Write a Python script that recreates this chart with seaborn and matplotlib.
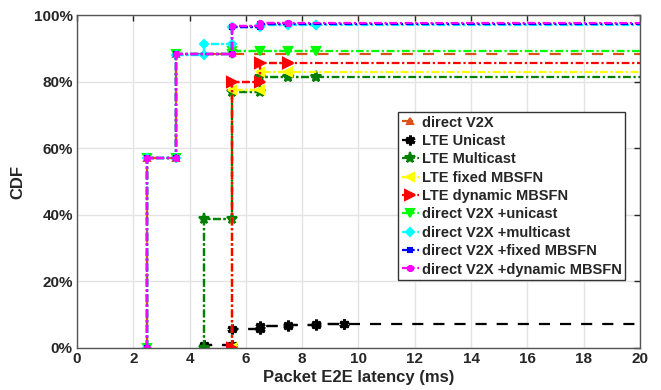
import matplotlib
matplotlib.use("Agg")
import matplotlib.pyplot as plt
import seaborn as sns

# latency bins (ms) and CDF values (%) for each scheme
names = ['direct V2X', 'LTE Unicast', 'LTE Multicast', 'LTE fixed MBSFN',
         'LTE dynamic MBSFN', 'direct V2X +unicast', 'direct V2X +multicast',
         'direct V2X +fixed MBSFN', 'direct V2X +dynamic MBSFN']

direct_x = [2.5, 3.5]
direct_cdf = [57.0, 88.3]
unicast_x = [4.5, 5.5, 6.5, 7.5, 8.5, 9.5]
unicast_cdf = [0.8, 5.7, 6.5, 7.0, 7.1, 7.1]
multicast_x = [4.5, 5.5, 6.5, 7.5, 8.5]
multicast_cdf = [38.7, 76.8, 81.3, 81.3, 81.3]
fixed_x = [5.5, 6.5, 7.5]
fixed_cdf = [77.6, 82.8, 82.8]
dynamic_x = [5.5, 6.5, 7.5]
dynamic_cdf = [80.0, 85.7, 85.7]
d_unicast_x = [2.5, 3.5, 5.5, 6.5, 7.5, 8.5]
d_unicast_cdf = [57.0, 88.3, 89.3, 89.3, 89.3, 89.3]
d_multicast_x = [2.5, 3.5, 4.5, 5.5, 6.5, 7.5, 8.5]
d_multicast_cdf = [57.0, 88.0, 91.3, 96.5, 96.9, 96.9, 96.9]
d_fixed_x = [2.5, 3.5, 5.5, 6.5, 7.5]
d_fixed_cdf = [57.0, 88.3, 96.5, 97.2, 97.2]
d_dynamic_x = [2.5, 3.5, 5.5, 6.5, 7.5]
d_dynamic_cdf = [57.0, 88.3, 96.6, 97.5, 97.5]

xs_all = [direct_x, unicast_x, multicast_x, fixed_x, dynamic_x,
          d_unicast_x, d_multicast_x, d_fixed_x, d_dynamic_x]
ys_all = [direct_cdf, unicast_cdf, multicast_cdf, fixed_cdf, dynamic_cdf,
          d_unicast_cdf, d_multicast_cdf, d_fixed_cdf, d_dynamic_cdf]

colors = ['#D95319', 'black', '#008000', '#FFFF00', '#FF0000',
          '#00FF00', '#00FFFF', '#0000FF', '#FF00FF']
markers = ['^', (6, 2, 0), '*', '<', '>', 'v', 'D', 's', (6, 2, 0)]
msizes = [5, 7, 8, 6, 6.5, 6, 4.5, 3.5, 5]
mews = [1.5, 2.2, 1.5, 1.5, 1.5, 1.5, 1.5, 1.5, 2]
dash_a = (5, 4.5)
dash_b = (3.5, 1.2, 1, 1.2)
dashes = [dash_a, dash_a, dash_b, dash_b, dash_b, dash_b, dash_b, dash_b, dash_b]

x_max = 20


def stair_vertices(xs, ys):
    vx, vy = [xs[0]], [0.0]
    for i in range(len(xs)):
        if i > 0:
            vx.append(xs[i])
            vy.append(ys[i - 1])
        vx.append(xs[i])
        vy.append(ys[i])
    return vx, vy


sns.set_theme(style="whitegrid")
plt.rcParams['font.family'] = ['Liberation Sans', 'DejaVu Sans']
plt.rcParams['font.weight'] = 'bold'

fig = plt.figure(figsize=(6.61, 3.9), dpi=100)
ax = fig.add_axes([0.1165, 0.1077, 0.8517, 0.8538])

for name, xs, ys, c, m, ms, mw, dsh in zip(names, xs_all, ys_all, colors,
                                            markers, msizes, mews, dashes):
    vx, vy = stair_vertices(xs, ys)
    sns.lineplot(x=vx + [x_max], y=vy + [vy[-1]], sort=False,
                 estimator=None, ax=ax, color=c, linewidth=1.6)
    ax.lines[-1].set_dashes(dsh)
    sns.lineplot(x=vx, y=vy, sort=False, estimator=None, ax=ax, color=c,
                 linewidth=1.6, marker=m, markersize=ms,
                 markeredgecolor=c, markerfacecolor=c, markeredgewidth=mw,
                 label=name)
    ax.lines[-1].set_dashes(dsh)

ax.set_xlim(0, x_max)
ax.set_ylim(0, 100)
ax.set_xticks(range(0, 21, 2))
ax.set_yticks(range(0, 101, 20))
ax.set_yticklabels([f'{v}%' for v in range(0, 101, 20)])
ax.tick_params(direction='in', top=True, right=True, length=4, width=1,
               labelsize=11, colors='#262626', pad=3)
for s in ax.spines.values():
    s.set_color('#555555')
    s.set_linewidth(1)
ax.grid(color='#E3E3E3', linewidth=1)
ax.set_xlabel('Packet E2E latency (ms)', fontsize=12, fontweight='bold',
              color='#262626', labelpad=3)
ax.set_ylabel('CDF', fontsize=12, fontweight='bold', color='#262626',
              labelpad=6)

leg = ax.legend(loc='upper left', bbox_to_anchor=(0.570, 0.709),
                borderaxespad=0, fontsize=10.5, handlelength=1.2,
                handletextpad=0.2, labelspacing=0.3, borderpad=0.25,
                fancybox=False, framealpha=1, edgecolor='#333333')
leg.get_frame().set_linewidth(1)

fig.savefig('out.png', dpi=100)
